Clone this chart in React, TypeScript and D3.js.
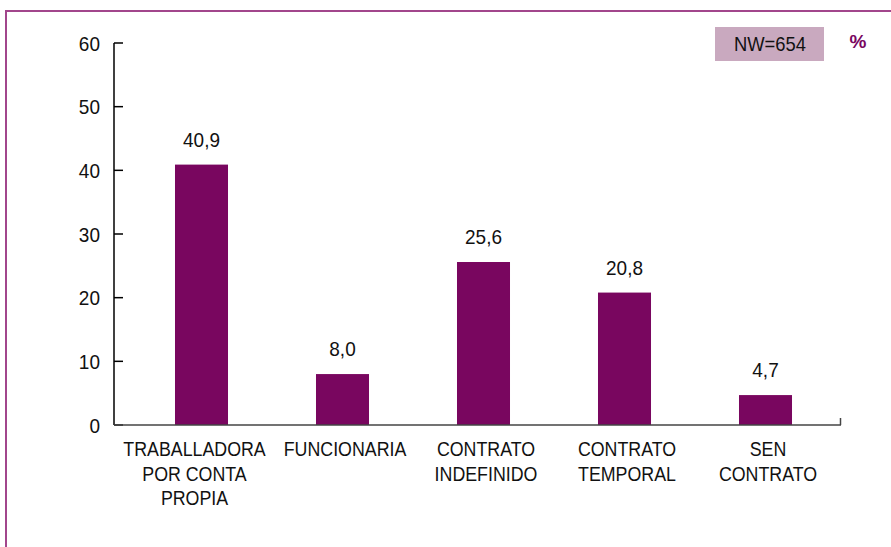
import React from "react";
import * as d3 from "d3";

const categories = [
  ["TRABALLADORA", "POR CONTA", "PROPIA"],
  ["FUNCIONARIA"],
  ["CONTRATO", "INDEFINIDO"],
  ["CONTRATO", "TEMPORAL"],
  ["SEN", "CONTRATO"],
];
const values = [40.9, 8.0, 25.6, 20.8, 4.7];
const yTicks = [0, 10, 20, 30, 40, 50, 60];
const sampleLabel = "NW=654";
const unitLabel = "%";

const width = 891;
const height = 547;
const font = "'Liberation Sans', Arial, sans-serif";
const barColor = "#79065f";

// condensed text: Liberation Sans squeezed horizontally, y is the baseline
const Txt = ({ x, y, anchor = "middle", size = 20, sx = 0.89, children, ...rest }: any) => (
  <text
    transform={`translate(${x},${y}) scale(${sx},1)`}
    textAnchor={anchor}
    fontFamily={font}
    fontSize={size}
    fill="#111"
    {...rest}
  >
    {children}
  </text>
);

const App = () => {
  const y = d3.scaleLinear().domain([0, 60]).range([425, 43]);
  const x = d3
    .scaleBand<number>()
    .domain(d3.range(values.length))
    .range([131, 836])
    .paddingInner(0.624)
    .paddingOuter(0.312);
  const fmt = (v: number) => v.toFixed(1).replace(".", ",");
  const cx = (i: number) => (x(i) as number) + x.bandwidth() / 2;

  return (
    <svg
      width={width}
      height={height}
      style={{ position: "absolute", left: 0, top: 0, background: "#fff" }}
    >
      {/* frame */}
      <line x1={6} x2={width} y1={11} y2={11} stroke="#a2468c" strokeWidth={2} />
      <line x1={6} x2={6} y1={10} y2={height} stroke="#a2468c" strokeWidth={2} />

      {/* y axis */}
      <line x1={114} x2={114} y1={y(60)} y2={y(0)} stroke="#000" strokeWidth={1.5} />
      {yTicks.map(t => (
        <g key={t}>
          <line x1={114} x2={123} y1={y(t)} y2={y(t)} stroke="#000" strokeWidth={1.5} />
          <Txt x={100} y={y(t) + 7.5} anchor="end" sx={0.95}>
            {t}
          </Txt>
        </g>
      ))}

      {/* bars */}
      {values.map((v, i) => (
        <g key={i}>
          <rect
            x={x(i)}
            y={y(v)}
            width={x.bandwidth()}
            height={y(0) - y(v)}
            fill={barColor}
          />
          <Txt x={cx(i)} y={y(v) - 18} sx={0.95}>
            {fmt(v)}
          </Txt>
          {/* first label sits a little left of its bar, the rest a little right */}
          {categories[i].map((line, j) => (
            <Txt key={j} x={cx(i) + (i === 0 ? -7 : 2.5)} y={456 + j * 24.5}>
              {line}
            </Txt>
          ))}
        </g>
      ))}

      {/* x axis */}
      <line x1={114} x2={841} y1={y(0)} y2={y(0)} stroke="#444" strokeWidth={1.5} />
      <line x1={840.5} x2={840.5} y1={y(0) - 7} y2={y(0)} stroke="#444" strokeWidth={1.5} />

      {/* sample box */}
      <rect x={715} y={27} width={109} height={34} fill="#c9a9bf" />
      <Txt x={770} y={50.5} sx={0.92}>
        {sampleLabel}
      </Txt>
      <Txt x={858} y={48} size={19} sx={1} fontWeight="bold" fill={barColor}>
        {unitLabel}
      </Txt>
    </svg>
  );
};

export default App;
